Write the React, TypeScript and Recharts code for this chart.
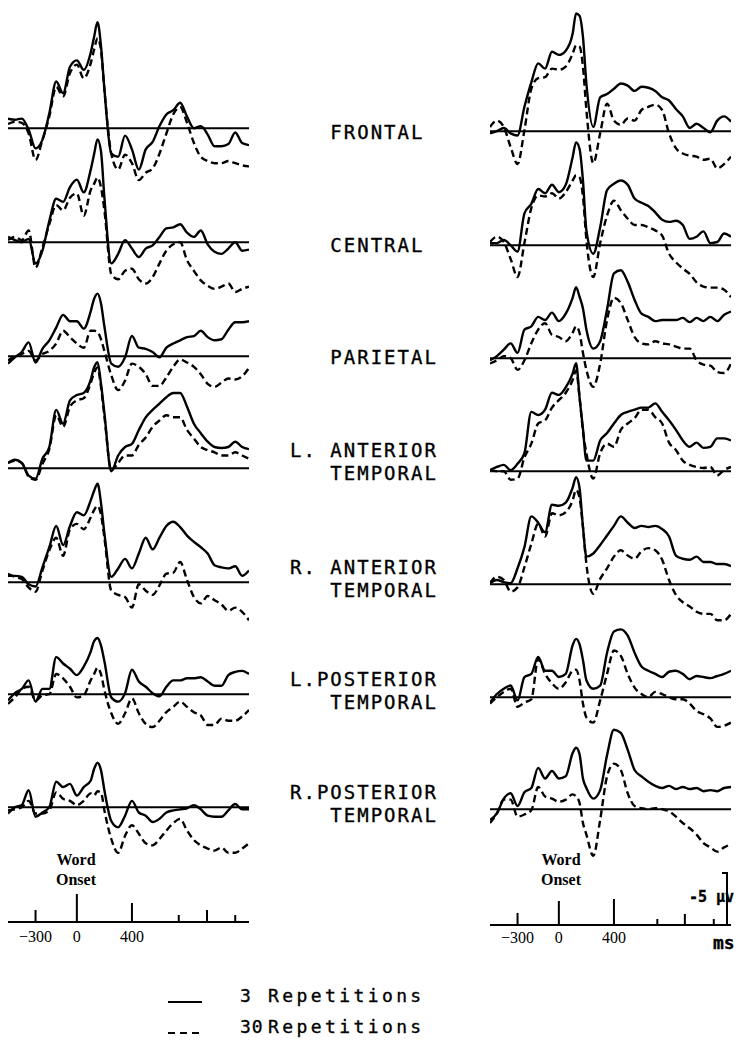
import React from 'react';
import { LineChart, Line, XAxis, YAxis, ReferenceLine } from 'recharts';

// sample times (ms from word onset); extra points round the sharp peak
const TIMES = [
  -500, -450, -400, -350, -300, -250, -200, -150, -100, -50, 0, 50, 100, 125, 150, 175, 200,
  250, 300, 350, 400, 450, 500, 550, 600, 650, 700, 750, 800, 850, 900, 950, 1000, 1050, 1100,
  1150, 1200, 1250,
];

// amplitudes in µV, negative plotted up; "3" = 3 repetitions (solid), "30" = 30 repetitions (dashed)
const frontalLeft3 = [-0.9, -0.8, -0.9, 0.15, 1.9, 1.1, -1.4, -4.4, -3.3, -5.8, -6.4, -5.5, -7.1, -8.6, -10.0, -7.8, -3.7, 2.4, 2.7, 0.7, 2.0, 3.9, 2.0, 1.3, -0.2, -1.3, -1.7, -2.4, -1.1, 0, -0.2, 0.6, 1.7, 1.7, 1.5, 0.4, 1.4, 1.6];
const frontalLeft30 = [-0.4, -0.6, -0.5, 0.5, 3.0, 1.1, -1.1, -3.9, -3.0, -5.2, -6.0, -4.7, -6.1, -7.4, -8.5, -7.4, -3.6, 2.4, 3.9, 2.5, 3.3, 4.9, 4.2, 3.8, 2.4, 0.5, -1.3, -2.0, -0.5, 1.4, 2.7, 3.1, 3.3, 3.3, 3.1, 3.3, 3.5, 3.6];
const centralLeft3 = [-0.5, -0.2, 0, -0.3, 2.0, 0.8, -2.0, -4.1, -3.8, -5.2, -5.9, -4.7, -6.8, -8.3, -9.7, -8.6, -4.2, 2.0, 1.1, -0.2, 0.6, 1.4, 0.6, 0.3, -0.5, -1.3, -1.4, -1.7, -0.9, -0.5, -1.1, 0.2, 0.9, 1.1, 0.6, 0, 0.8, 0.7];
const centralLeft30 = [-0.2, -0.5, -0.2, -1.1, 2.4, 0.5, -1.7, -3.5, -3.0, -4.2, -4.6, -2.5, -4.9, -5.5, -6.1, -5.2, -3.0, 3.0, 3.5, 2.7, 2.5, 3.5, 3.9, 3.3, 2.0, 0.8, 0.2, 0, 1.7, 2.7, 3.6, 4.1, 4.4, 4.2, 3.9, 4.7, 4.4, 4.2];
const parietalLeft3 = [0.7, 0.1, -0.4, -1.3, 0.6, -0.7, -1.5, -2.7, -3.9, -3.3, -3.3, -2.6, -4.2, -5.4, -5.9, -5.0, -2.8, 0.7, 1.0, 0.1, -1.9, -0.8, -0.7, -0.4, 0.1, -0.8, -1.2, -1.5, -1.8, -1.9, -2.4, -1.8, -1.5, -1.6, -2.5, -3.2, -3.2, -3.3];
const parietalLeft30 = [0.4, 0, -0.2, -0.5, 0.4, -0.2, -0.5, -1.2, -2.4, -1.8, -1.2, -0.8, -2.4, -2.4, -2.3, -1.6, -0.5, 1.8, 3.2, 2.3, 0.7, 1.0, 1.7, 2.8, 2.8, 2.0, 1.0, 0.3, 0.6, 1.0, 1.7, 2.6, 2.9, 2.5, 2.1, 2.2, 1.9, 1.1];
const lAntLeft3 = [-0.5, -0.8, -0.5, 0.7, 1.0, -0.9, -2.0, -5.5, -4.2, -6.4, -6.9, -7.1, -8.3, -9.5, -10.0, -8.0, -5.2, 0.3, -1.2, -2.0, -2.3, -3.6, -4.8, -5.5, -6.1, -6.7, -7.1, -7.1, -5.8, -4.2, -3.3, -2.5, -2.0, -1.9, -2.0, -2.5, -2.0, -1.8];
const lAntLeft30 = [-0.5, -0.7, -0.5, 0.8, 1.1, -0.4, -1.8, -5.0, -3.9, -5.8, -6.4, -6.6, -8.0, -9.0, -9.5, -7.7, -4.9, 0.2, -0.5, -1.2, -1.2, -2.2, -2.9, -3.9, -4.5, -5.0, -4.8, -4.8, -3.6, -2.8, -2.0, -1.7, -1.5, -1.2, -1.2, -1.5, -1.2, -0.9];
const rAntLeft3 = [-0.6, -0.6, -0.5, 0.2, 0.4, -1.4, -3.3, -5.3, -3.5, -5.3, -6.6, -6.3, -7.7, -8.6, -9.3, -7.5, -4.6, -0.5, -1.3, -2.2, -1.3, -2.7, -4.2, -3.1, -4.2, -5.3, -5.7, -5.2, -4.4, -3.8, -3.3, -2.7, -1.6, -1.4, -1.3, -1.5, -0.6, -1.1];
const rAntLeft30 = [-0.8, -0.5, -0.3, 0.5, 0.9, -1.1, -3.0, -4.2, -2.5, -5.0, -5.5, -5.0, -6.1, -6.8, -7.2, -6.4, -4.2, 0.8, 1.2, 1.4, 2.4, 0.2, 0.8, 1.2, 0.3, -0.8, -0.9, -1.9, -0.2, 1.4, 2.0, 1.3, 1.7, 2.1, 2.7, 2.4, 2.8, 3.6];
const lPostLeft3 = [0.6, -0.1, -0.5, -1.3, 0.7, -0.5, -0.5, -3.5, -2.9, -2.4, -1.8, -2.6, -4.0, -5.0, -5.3, -4.6, -3.1, 0.3, 0.7, -0.1, -2.3, -1.2, -0.7, -0.1, 0.2, -0.7, -1.3, -1.3, -1.5, -1.5, -1.6, -1.2, -0.8, -0.8, -1.8, -2.1, -2.2, -1.9];
const lPostLeft30 = [0.9, 0.3, -0.5, -0.7, 0.6, 0.1, 0, -1.9, -1.5, -0.7, 0.3, 0.1, -1.3, -1.9, -2.5, -1.9, -0.4, 1.8, 2.8, 1.8, 0.4, 1.8, 2.8, 3.1, 2.5, 1.7, 1.2, 0.7, 1.2, 1.7, 2.0, 2.9, 2.9, 2.3, 2.5, 2.5, 2.1, 1.5];
const rPostLeft3 = [0.6, 0, -0.2, -1.6, 0.9, 0.5, 0, -2.4, -1.9, -2.2, -1.1, -1.9, -2.5, -3.6, -4.2, -3.5, -1.6, 1.3, 1.9, 0.8, -0.6, 0.5, 0.8, 1.4, 1.1, 0.5, 0.3, 0.2, 0.1, -0.2, 0.2, 0.8, 0.9, 0.9, 0.3, -0.3, 0.2, 0.2];
const rPostLeft30 = [0.3, 0.2, 0, -0.6, 0.6, 0.6, 0.3, -1.4, -0.8, -0.6, -0.2, -0.6, -1.3, -1.1, -1.5, -1.4, 0.3, 3.0, 4.3, 2.7, 1.7, 2.5, 3.4, 3.6, 3.0, 2.2, 1.5, 1.1, 2.2, 3.1, 3.6, 3.9, 4.1, 3.8, 4.3, 4.3, 3.9, 3.4];

const frontalRight3 = [0.2, 0, -0.3, 0.2, 0.4, -2.3, -4.6, -6.4, -5.9, -7.5, -7.2, -7.6, -9.2, -11.1, -10.9, -8.9, -4.5, -0.4, -3.2, -3.5, -4.0, -4.5, -4.3, -3.8, -4.2, -4.1, -3.8, -3.2, -2.9, -2.1, -1.4, -0.3, -0.7, -0.3, 0.1, -1.0, -1.4, -0.9];
const frontalRight30 = [-0.4, -1.0, -0.4, 1.5, 3.1, -0.1, -4.0, -5.0, -5.1, -5.9, -5.8, -6.1, -7.3, -8.1, -8.0, -6.1, -2.0, 3.0, 0.2, -2.6, -1.0, -0.6, -1.2, -1.0, -2.0, -2.3, -2.5, -2.0, 0.2, 1.6, 2.1, 2.3, 2.4, 2.7, 2.6, 3.5, 3.1, 2.4];
const centralRight3 = [-0.2, -0.2, -0.5, 0, 0.6, -3.0, -3.9, -5.3, -4.9, -5.7, -5.0, -5.7, -8.3, -9.7, -9.1, -6.1, -1.4, 0.8, -1.7, -5.2, -5.8, -6.1, -5.7, -4.4, -4.0, -3.7, -3.1, -2.4, -2.2, -2.3, -1.9, -0.6, -0.8, -1.3, -0.2, -0.3, -1.1, -0.8];
const centralRight30 = [-0.3, -0.8, -0.3, 1.3, 3.0, -0.2, -3.5, -4.7, -4.6, -4.9, -4.4, -5.0, -6.1, -6.6, -6.4, -4.6, -0.5, 3.0, -0.2, -2.8, -4.2, -3.3, -2.5, -1.9, -1.9, -1.7, -1.4, -0.9, 0.8, 1.6, 2.2, 2.7, 3.5, 3.9, 4.0, 4.0, 4.2, 4.9];
const parietalRight3 = [0.2, -0.2, -0.8, -1.4, -0.5, -2.7, -3.0, -3.9, -3.6, -4.3, -3.5, -4.2, -5.7, -6.7, -5.8, -4.7, -2.7, -0.9, -1.6, -4.6, -8.0, -8.3, -7.2, -5.5, -4.2, -3.9, -3.5, -3.6, -3.6, -3.6, -3.8, -3.4, -3.8, -3.5, -3.9, -3.5, -4.1, -4.4];
const parietalRight30 = [0.5, 0.2, -0.2, 0, 1.1, 0.2, -1.4, -2.7, -3.3, -2.2, -2.0, -1.6, -2.4, -3.0, -2.4, -0.5, 1.1, 2.7, 0.5, -3.6, -5.7, -5.2, -3.6, -2.0, -1.4, -1.3, -1.6, -1.4, -1.3, -1.1, -0.9, -0.9, 0.2, 0.6, 0.7, 1.3, 1.4, 0.5];
const lAntRight3 = [-0.1, -0.4, -0.6, -0.1, -0.7, -1.7, -5.6, -5.3, -5.8, -7.4, -7.2, -7.9, -9.2, -10.2, -7.0, -4.0, -1.0, -1.0, -2.9, -3.6, -4.5, -5.3, -5.6, -5.8, -6.0, -6.0, -6.4, -5.6, -4.8, -3.9, -2.9, -2.3, -2.7, -2.2, -2.3, -3.1, -3.1, -2.9];
const lAntRight30 = [-0.1, 0, 0, 0.8, 0.7, -1.3, -2.6, -4.5, -4.8, -6.0, -6.7, -7.4, -8.6, -9.5, -7.0, -3.8, -1.7, 0.7, -1.7, -2.6, -2.3, -3.9, -4.5, -5.0, -5.8, -5.8, -5.1, -4.5, -2.7, -2.0, -1.0, -0.6, -0.4, -0.3, -0.4, 0.4, -0.1, -0.4];
const rAntRight3 = [-0.1, -0.4, -0.2, -0.1, -1.5, -3.5, -6.4, -5.8, -4.9, -7.5, -7.4, -7.7, -9.1, -10.1, -9.1, -5.4, -2.6, -2.9, -3.7, -4.6, -5.5, -6.4, -5.8, -5.3, -5.5, -5.4, -5.5, -5.2, -4.5, -2.7, -2.4, -2.3, -2.6, -2.1, -2.1, -1.9, -1.9, -1.7];
const rAntRight30 = [-0.1, -0.7, -0.4, 0.7, 0.3, -1.6, -3.8, -5.7, -4.5, -6.7, -6.5, -6.8, -7.9, -8.9, -8.2, -5.4, -1.9, 0.9, -0.5, -1.5, -2.6, -3.2, -2.7, -2.4, -3.1, -3.4, -3.2, -2.3, -0.4, 1.0, 1.7, 2.1, 2.6, 2.8, 2.8, 3.4, 3.4, 2.8];
const lPostRight3 = [0.5, -0.3, -0.8, -1.1, 0.3, -1.9, -2.2, -3.8, -2.5, -2.5, -1.9, -2.2, -4.9, -5.5, -5.0, -3.5, -1.6, -0.8, -1.1, -4.2, -6.2, -6.4, -5.8, -4.2, -2.9, -2.5, -2.2, -1.9, -2.4, -2.5, -2.2, -1.7, -2.0, -1.9, -1.8, -2.0, -2.2, -2.5];
const lPostRight30 = [0.6, 0, -0.5, -0.8, 0.9, 0.5, 0.2, -3.6, -2.2, -1.3, -0.8, -1.4, -2.5, -2.6, -1.6, 0.6, 1.9, 2.4, 0.3, -2.2, -4.4, -3.9, -2.2, -0.9, -0.3, 0, -0.5, -0.3, 0, 0.2, 0.2, 0.6, 1.3, 1.6, 2.0, 2.8, 2.7, 2.4];
const rPostRight3 = [1.0, 0.4, -1.0, -1.5, -0.3, -1.6, -2.0, -3.9, -2.9, -3.6, -2.9, -3.1, -5.3, -5.8, -5.2, -2.9, -2.0, -1.0, -1.8, -5.1, -7.5, -7.2, -5.6, -3.7, -3.1, -2.6, -2.2, -2.0, -2.2, -1.9, -2.1, -1.9, -2.0, -1.7, -1.8, -1.7, -2.0, -2.1];
const rPostRight30 = [1.3, 0.4, -0.9, -0.9, 0.7, 0.5, 0.1, -2.1, -1.2, -1.0, -0.7, -0.9, -1.4, -1.2, -0.6, 1.3, 2.4, 4.4, 1.0, -3.1, -4.3, -3.7, -1.5, -0.3, -0.1, 0, -0.1, 0, 0.2, 0.7, 1.3, 1.8, 2.4, 3.2, 3.6, 4.0, 3.6, 3.3];

const REGION_LABELS = [
  ['   FRONTAL'],
  ['   CENTRAL'],
  ['   PARIETAL'],
  ['L. ANTERIOR', '   TEMPORAL'],
  ['R. ANTERIOR', '   TEMPORAL'],
  ['L.POSTERIOR', '   TEMPORAL'],
  ['R.POSTERIOR', '   TEMPORAL'],
];

const LEFT_SERIES = [
  [frontalLeft3, frontalLeft30],
  [centralLeft3, centralLeft30],
  [parietalLeft3, parietalLeft30],
  [lAntLeft3, lAntLeft30],
  [rAntLeft3, rAntLeft30],
  [lPostLeft3, lPostLeft30],
  [rPostLeft3, rPostLeft30],
];
const RIGHT_SERIES = [
  [frontalRight3, frontalRight30],
  [centralRight3, centralRight30],
  [parietalRight3, parietalRight30],
  [lAntRight3, lAntRight30],
  [rAntRight3, rAntRight30],
  [lPostRight3, lPostRight30],
  [rPostRight3, rPostRight30],
];

const TICKS_LEFT = [-300, 0, 400, 740, 945, 1150];
const TICKS_RIGHT = [-300, 0, 400, 715, 915, 1125];
const TICK_LABELS: Record<number, string> = { [-300]: '\u2212300', 0: '0', 400: '400' };

// calibration bar: 5 µV (drawn upward = negative)
const SCALE_BAR_UV = 5;

const LEGEND_ITEMS = [
  { count: '3', text: 'Repetitions', dashed: false },
  { count: '30', text: 'Repetitions', dashed: true },
];

// layout
const PX_PER_UV = 10.6;
const Y_TOP = -12;
const PANEL_H = 210;
const Y_BOTTOM = Y_TOP + PANEL_H / PX_PER_UV;
const T_MIN = -500;
const T_MAX = 1250;
const PANEL_W = 241;
const COL_X = [8, 490];
const LEFT_BASE = [128, 242, 356, 468, 582, 694, 807];
const RIGHT_BASE = [131, 245, 358, 471, 584, 697, 809];
const LABEL_Y = [132, 245, 357, 450, 567, 679, 792];
const MONO = '"DejaVu Sans Mono", monospace';
const SERIF = '"Liberation Serif", "Times New Roman", serif';
const NO_MARGIN = { top: 0, right: 0, bottom: 0, left: 0 };

const Panel = ({ x, base, rep3, rep30 }: { x: number; base: number; rep3: number[]; rep30: number[] }) => {
  const data = TIMES.map((t, i) => ({ t, rep3: rep3[i], rep30: rep30[i] }));
  return (
    <div style={{ position: 'absolute', left: x, top: base + Y_TOP * PX_PER_UV }}>
      <LineChart width={PANEL_W} height={PANEL_H} data={data} margin={NO_MARGIN}>
        <XAxis hide type="number" dataKey="t" domain={[T_MIN, T_MAX]} />
        <YAxis hide type="number" domain={[Y_TOP, Y_BOTTOM]} reversed allowDataOverflow />
        <ReferenceLine y={0} stroke="#000" strokeWidth={2} />
        <Line dataKey="rep30" type="monotone" stroke="#000" strokeWidth={2.4} strokeDasharray="7 4" dot={false} isAnimationActive={false} />
        <Line dataKey="rep3" type="monotone" stroke="#000" strokeWidth={2.4} dot={false} isAnimationActive={false} />
      </LineChart>
    </div>
  );
};

const TimeTick = (props: any) => {
  const { x, y, payload, heights, ticks, labelDy } = props;
  const idx = ticks.indexOf(payload.value);
  const h = heights[idx] ?? 8;
  const label = TICK_LABELS[payload.value];
  return (
    <g>
      <line x1={x} x2={x} y1={y} y2={y - h} stroke="#000" strokeWidth={2} />
      {label && (
        <text x={x} y={y + labelDy} textAnchor="middle" fontFamily={SERIF} fontSize={16} fill="#000">
          {label}
        </text>
      )}
    </g>
  );
};

const TimeAxis = ({ x, axisY, ticks, heights, labelDy }: any) => {
  const plotH = 60;
  const data = TIMES.map(t => ({ t, v: 0 }));
  return (
    <div style={{ position: 'absolute', left: x, top: axisY - plotH }}>
      <LineChart width={PANEL_W} height={plotH + 30} data={data} margin={NO_MARGIN}>
        <XAxis
          type="number"
          dataKey="t"
          domain={[T_MIN, T_MAX]}
          ticks={ticks}
          interval={0}
          height={30}
          tickSize={0}
          tickMargin={0}
          tickLine={false}
          axisLine={{ stroke: '#000', strokeWidth: 2 }}
          tick={(p: any) => <TimeTick {...p} ticks={ticks} heights={heights} labelDy={labelDy} />}
        />
        <YAxis hide type="number" domain={[-plotH / PX_PER_UV, 0]} reversed />
        <Line dataKey="v" stroke="none" dot={false} isAnimationActive={false} />
      </LineChart>
    </div>
  );
};

const abs = (left: number, top: number, extra: React.CSSProperties = {}): React.CSSProperties => ({
  position: 'absolute',
  left,
  top,
  whiteSpace: 'pre',
  ...extra,
});

const plotterText: React.CSSProperties = { fontFamily: MONO, WebkitTextStroke: '0.35px #000' };

export default function App() {
  const barH = SCALE_BAR_UV * PX_PER_UV;
  return (
    <div style={{ position: 'absolute', left: 0, top: 0, width: 740, height: 1041, background: '#fff', overflow: 'hidden', color: '#000' }}>
      {LEFT_SERIES.map(([a, b], i) => (
        <Panel key={`l${i}`} x={COL_X[0]} base={LEFT_BASE[i]} rep3={a} rep30={b} />
      ))}
      {RIGHT_SERIES.map(([a, b], i) => (
        <Panel key={`r${i}`} x={COL_X[1]} base={RIGHT_BASE[i]} rep3={a} rep30={b} />
      ))}

      {REGION_LABELS.map((lines, i) =>
        lines.map((line, j) => (
          <div
            key={`lab${i}-${j}`}
            style={abs(290, LABEL_Y[i] + j * 23.5 - 11.2, { ...plotterText, fontSize: 19, lineHeight: '23px', letterSpacing: 2 })}
          >
            {line}
          </div>
        ))
      )}

      {/* word onset marks */}
      {[76, 561].map((cx, i) => (
        <div key={`wo${i}`} style={abs(cx - 30, 850, { width: 60, textAlign: 'center', fontFamily: SERIF, fontWeight: 'bold', fontSize: 16, lineHeight: '20px' })}>
          {'Word\nOnset'}
        </div>
      ))}

      <TimeAxis x={COL_X[0]} axisY={922} ticks={TICKS_LEFT} heights={[12, 28, 19, 7, 12, 7]} labelDy={20} />
      <TimeAxis x={COL_X[1]} axisY={925} ticks={TICKS_RIGHT} heights={[12, 24, 26, 6, 11, 6]} labelDy={18} />

      {/* calibration bar */}
      <svg style={{ position: 'absolute', left: 718, top: 925 - barH - 2, zIndex: 2 }} width={14} height={barH + 4}>
        <line x1={9} x2={9} y1={2} y2={barH + 3} stroke="#000" strokeWidth={2} />
        <line x1={4} x2={10} y1={3} y2={3} stroke="#000" strokeWidth={2} />
      </svg>
      <div style={abs(689, 888, { ...plotterText, fontWeight: 'bold', fontSize: 15, lineHeight: '18px' })}>{'-5 \u03bcv'}</div>
      <div style={abs(713, 932, { ...plotterText, fontWeight: 'bold', fontSize: 18, lineHeight: '22px' })}>ms</div>

      {/* legend */}
      {LEGEND_ITEMS.map((item, i) => {
        const cy = [996, 1027][i];
        return (
          <React.Fragment key={`lg${i}`}>
            <svg style={{ position: 'absolute', left: 166, top: cy + 2 }} width={40} height={8}>
              <line x1={2} x2={36} y1={4} y2={4} stroke="#000" strokeWidth={2.2} strokeDasharray={item.dashed ? '7 5' : undefined} />
            </svg>
            <div style={abs(240, cy - 10.7, { ...plotterText, fontSize: 18, lineHeight: '22px', letterSpacing: 1 })}>{item.count}</div>
            <div style={abs(268, cy - 10.7, { ...plotterText, fontSize: 18, lineHeight: '22px', letterSpacing: 3.4 })}>{item.text}</div>
          </React.Fragment>
        );
      })}
    </div>
  );
}
